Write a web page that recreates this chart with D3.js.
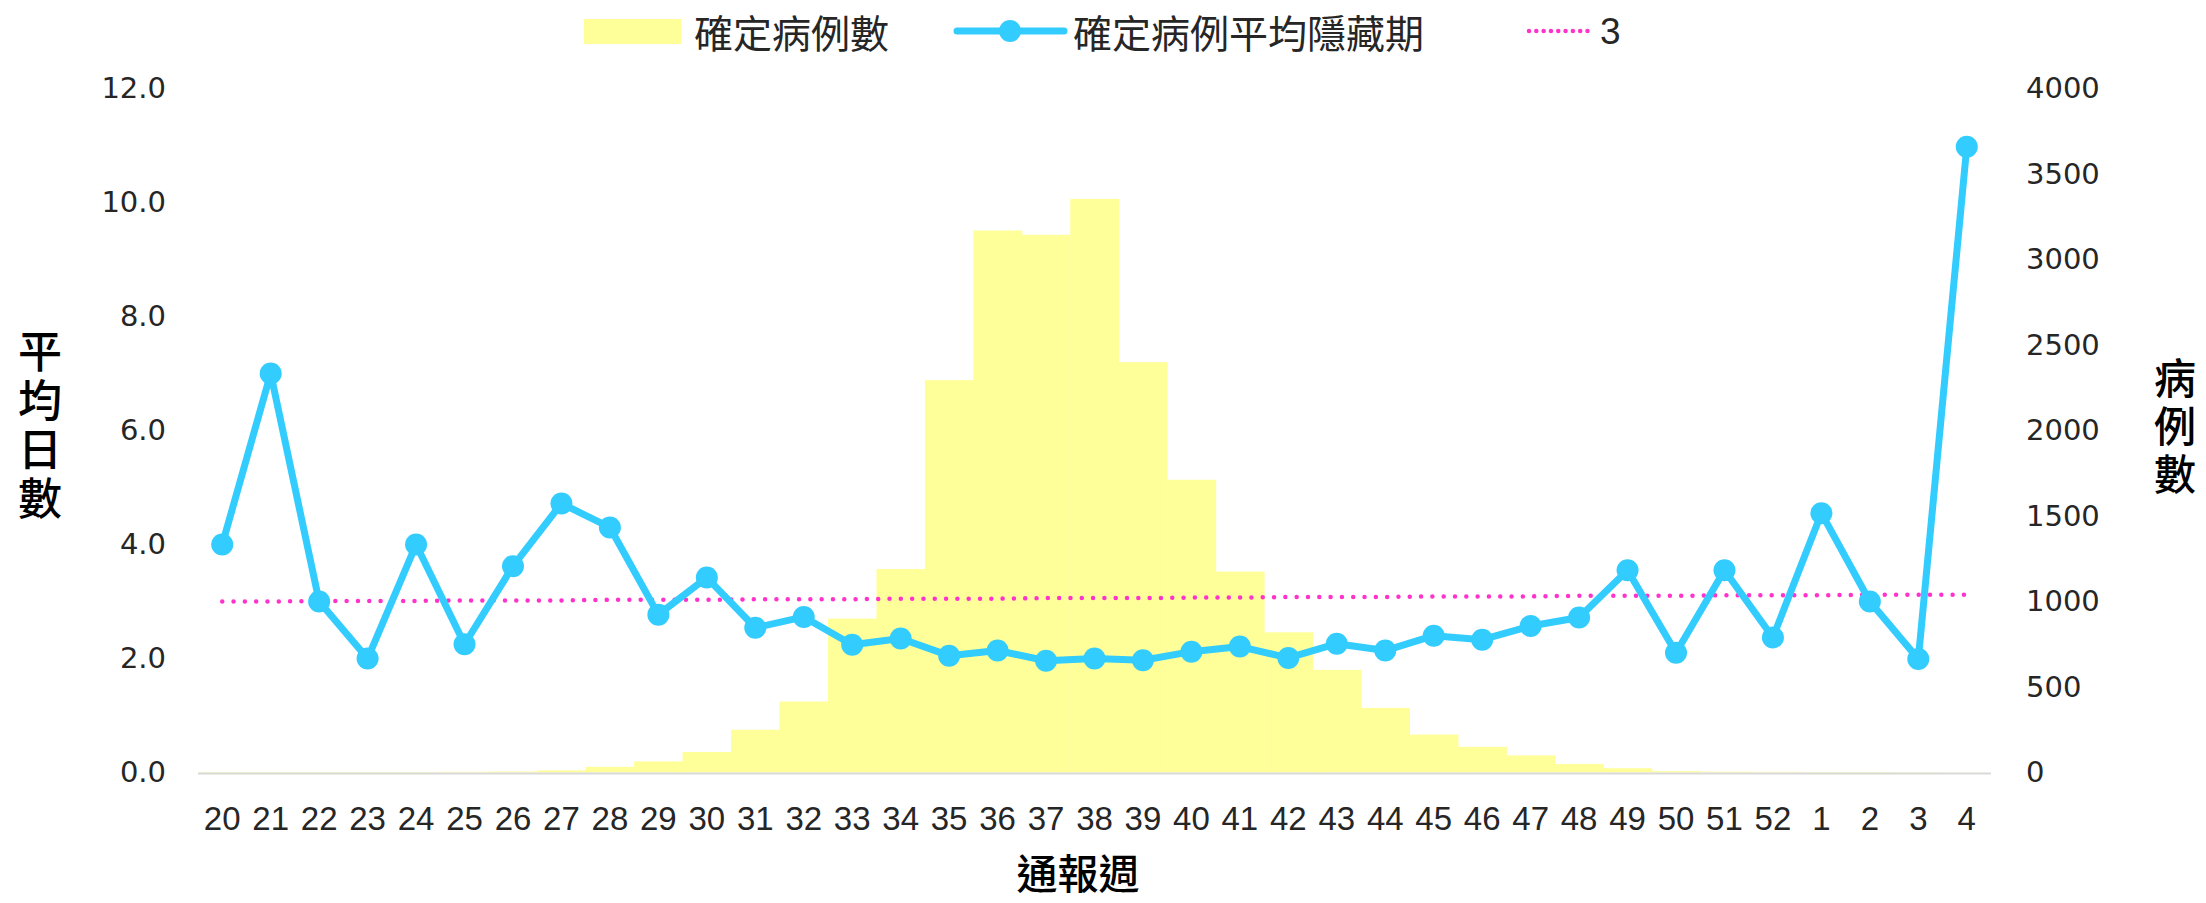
<!DOCTYPE html>
<html>
<head>
<meta charset="utf-8">
<script src="https://cdn.jsdelivr.net/npm/d3@7"></script>
<style>
  html, body { margin: 0; padding: 0; background: #fff; }
  svg { display: block; }
  .vt { writing-mode: vertical-rl; text-orientation: upright; }
</style>
</head>
<body>
<svg id="chart" width="2206" height="903"></svg>
<script>
// ---------- data ----------
const weeks = ["20","21","22","23","24","25","26","27","28","29","30","31","32","33","34","35","36","37","38","39","40","41","42","43","44","45","46","47","48","49","50","51","52","1","2","3","4"];
const caseCounts = [3,3,3,3,3,4,6,12,33,65,120,250,415,900,1190,2295,3170,3145,3355,2400,1712,1175,820,600,378,222,150,100,50,25,8,5,4,3,3,2,1];
const avgIncubation = [4.0,7.0,3.0,2.0,4.0,2.25,3.62,4.72,4.3,2.77,3.42,2.54,2.73,2.24,2.35,2.05,2.14,1.96,2.0,1.97,2.12,2.21,2.01,2.26,2.14,2.4,2.33,2.57,2.72,3.55,2.1,3.55,2.37,4.55,3.0,1.99,10.98];
const refLine = [3.00,3.00,3.01,3.01,3.01,3.02,3.02,3.02,3.03,3.03,3.03,3.04,3.04,3.04,3.05,3.05,3.05,3.06,3.06,3.06,3.07,3.07,3.08,3.08,3.08,3.09,3.09,3.09,3.10,3.10,3.10,3.11,3.11,3.11,3.12,3.12,3.12];
const leftTicks = [0,2,4,6,8,10,12];
const rightTicks = [0,500,1000,1500,2000,2500,3000,3500,4000];
const seriesNames = ["確定病例數","確定病例平均隱藏期","3"];
const leftTitle = "平均日數";
const rightTitle = "病例數";
const xTitle = "通報週";

// ---------- layout ----------
const plot = {left: 198, right: 1991, top: 88.6, bottom: 772.5};
const colors = {bar: "#FFFF99", line: "#33CCFF", ref: "#FF33CC", axis: "#D9D9D9", text: "#262626"};
const narrow = "'Liberation Sans Narrow', 'Arial Narrow', sans-serif";
const cjk = "'Noto Sans CJK TC', 'Noto Sans CJK SC', sans-serif";

const svg = d3.select("#chart");

const x = d3.scaleBand().domain(weeks).range([plot.left, plot.right]).padding(0);
const yL = d3.scaleLinear().domain([0, 12]).range([plot.bottom, plot.top]);
const yR = d3.scaleLinear().domain([0, 4000]).range([plot.bottom, plot.top]);
const cx = d => x(d) + x.bandwidth() / 2;

// bars
svg.append("g").selectAll("rect").data(weeks).join("rect")
  .attr("x", d => x(d))
  .attr("width", x.bandwidth() + 0.5)
  .attr("y", (d, i) => yR(caseCounts[i]))
  .attr("height", (d, i) => yR(0) - yR(caseCounts[i]))
  .attr("fill", colors.bar);

// x axis line
svg.append("line")
  .attr("x1", plot.left).attr("x2", plot.right)
  .attr("y1", plot.bottom + 1).attr("y2", plot.bottom + 1)
  .attr("stroke", colors.axis).attr("stroke-width", 2);

// reference dotted line
const refGen = d3.line().x((d, i) => cx(weeks[i])).y(d => yL(d));
svg.append("path").datum(refLine)
  .attr("d", refGen)
  .attr("fill", "none")
  .attr("stroke", colors.ref)
  .attr("stroke-width", 4.5)
  .attr("stroke-linecap", "round")
  .attr("stroke-dasharray", "0.01 11.3");

// average line
const lineGen = d3.line().x((d, i) => cx(weeks[i])).y(d => yL(d));
svg.append("path").datum(avgIncubation)
  .attr("d", lineGen)
  .attr("fill", "none")
  .attr("stroke", colors.line)
  .attr("stroke-width", 7)
  .attr("stroke-linejoin", "round");
svg.append("g").selectAll("circle").data(avgIncubation).join("circle")
  .attr("cx", (d, i) => cx(weeks[i]))
  .attr("cy", d => yL(d))
  .attr("r", 11)
  .attr("fill", colors.line);

// axes (no lines, labels only)
const xAxis = d3.axisBottom(x).tickSize(0).tickPadding(0);
const gx = svg.append("g").attr("transform", `translate(0,${plot.bottom})`).call(xAxis);
gx.select(".domain").remove();
gx.selectAll("text")
  .attr("y", 46)
  .attr("dy", "0.35em")
  .attr("font-family", narrow)
  .attr("font-size", 33)
  .attr("fill", colors.text);

const yAxisL = d3.axisLeft(yL).tickValues(leftTicks).tickFormat(d3.format(".1f")).tickSize(0).tickPadding(32);
const gyl = svg.append("g").attr("transform", `translate(${plot.left},0)`).call(yAxisL);
gyl.select(".domain").remove();
gyl.selectAll("text")
  .attr("font-family", "'DejaVu Sans', sans-serif")
  .attr("font-size", 29)
  .attr("fill", colors.text);

const yAxisR = d3.axisRight(yR).tickValues(rightTicks).tickFormat(d3.format("d")).tickSize(0).tickPadding(35);
const gyr = svg.append("g").attr("transform", `translate(${plot.right},0)`).call(yAxisR);
gyr.select(".domain").remove();
gyr.selectAll("text")
  .attr("font-family", "'DejaVu Sans', sans-serif")
  .attr("font-size", 29)
  .attr("fill", colors.text);

// axis titles (vertical text)
svg.append("text").attr("class", "vt")
  .attr("x", 40).attr("y", 427)
  .attr("text-anchor", "middle")
  .attr("font-family", cjk).attr("font-size", 44).attr("font-weight", 500)
  .attr("letter-spacing", 5)
  .attr("fill", "#000").text(leftTitle);

svg.append("text").attr("class", "vt")
  .attr("x", 2175).attr("y", 429)
  .attr("text-anchor", "middle")
  .attr("font-family", cjk).attr("font-size", 42).attr("font-weight", 500)
  .attr("letter-spacing", 6)
  .attr("fill", "#000").text(rightTitle);

svg.append("text")
  .attr("x", 1078).attr("y", 871)
  .attr("text-anchor", "middle").attr("dominant-baseline", "central")
  .attr("font-family", cjk).attr("font-size", 41).attr("font-weight", 500)
  .attr("fill", "#000").text(xTitle);

// legend
const leg = svg.append("g");
const ly = 31;
leg.append("rect").attr("x", 584).attr("y", ly - 12).attr("width", 97).attr("height", 25).attr("fill", colors.bar);
leg.append("text").attr("x", 694).attr("y", ly).attr("dominant-baseline", "central")
  .attr("font-family", cjk).attr("font-size", 39).attr("fill", colors.text).text(seriesNames[0]);

leg.append("line").attr("x1", 957).attr("x2", 1064).attr("y1", ly).attr("y2", ly)
  .attr("stroke", colors.line).attr("stroke-width", 7).attr("stroke-linecap", "round");
leg.append("circle").attr("cx", 1010).attr("cy", ly).attr("r", 11).attr("fill", colors.line);
leg.append("text").attr("x", 1073).attr("y", ly).attr("dominant-baseline", "central")
  .attr("font-family", cjk).attr("font-size", 39).attr("fill", colors.text).text(seriesNames[1]);

leg.append("line").attr("x1", 1529).attr("x2", 1588).attr("y1", ly).attr("y2", ly)
  .attr("stroke", colors.ref).attr("stroke-width", 4.5).attr("stroke-linecap", "round")
  .attr("stroke-dasharray", "0.01 7.3");
leg.append("text").attr("x", 1600).attr("y", ly).attr("dominant-baseline", "central")
  .attr("font-family", narrow).attr("font-size", 37)
  .attr("fill", colors.text).text(seriesNames[2]);
</script>
</body>
</html>
